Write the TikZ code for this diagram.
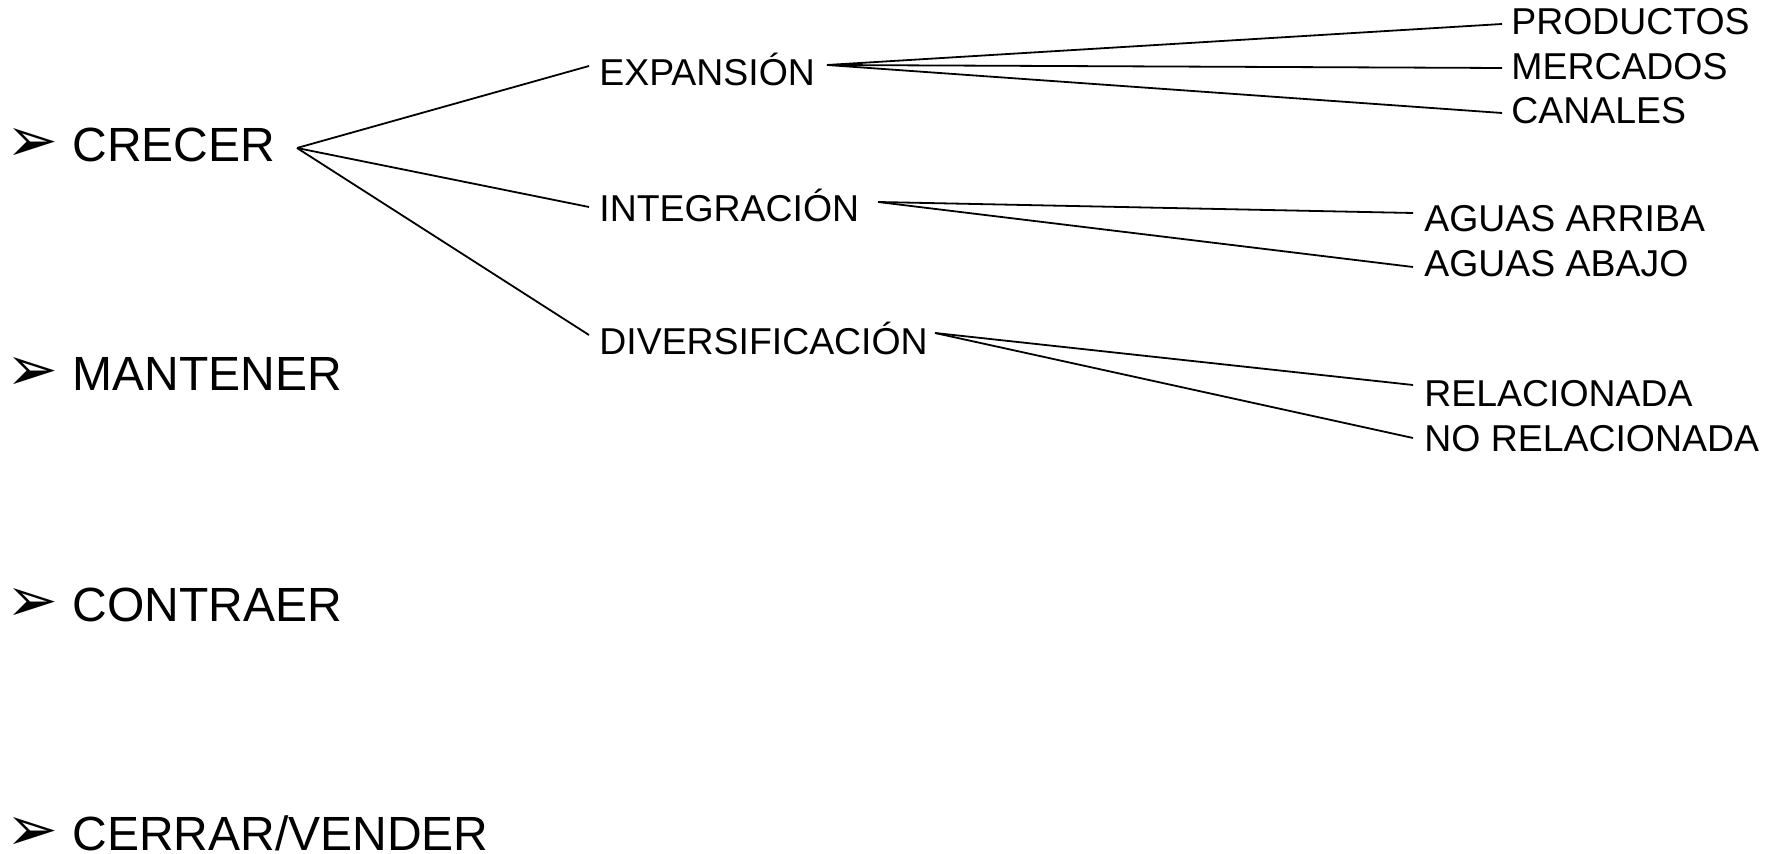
\documentclass[tikz,border=0pt]{standalone}
\usepackage{fontspec}
\setmainfont{Liberation Sans}
\newfontfamily\symfont{DejaVu Sans}
\newcommand{\bulletmark}{\llap{\fontsize{31pt}{31pt}\selectfont\symfont ➢\hspace{7pt}}}
\begin{document}
\begin{tikzpicture}[x=0.5pt,y=-0.5pt,
  topitem/.style={anchor=base west,inner sep=0pt,font=\fontsize{24pt}{28pt}\selectfont},
  subitem/.style={anchor=base west,inner sep=0pt,font=\fontsize{18.7pt}{22pt}\selectfont},
  link/.style={line width=0.9pt,black}]
\useasboundingbox[fill=white] (0,0) rectangle (1777,854);
% top level
\node[topitem] (crecer)   at (72,162) {\bulletmark CRECER};
\node[topitem] (mantener) at (72,391) {\bulletmark MANTENER};
\node[topitem] (contraer) at (72,622) {\bulletmark CONTRAER};
\node[topitem] (cerrar)   at (72,850) {\bulletmark CERRAR/VENDER};
% second level
\node[subitem] (exp) at (599,86)  {EXPANSIÓN};
\node[subitem] (int) at (599,222) {INTEGRACIÓN};
\node[subitem] (div) at (599,355) {DIVERSIFICACIÓN};
% leaves
\node[subitem] (prod)   at (1511,35)  {PRODUCTOS};
\node[subitem] (merc)   at (1511,80)  {MERCADOS};
\node[subitem] (can)    at (1511,124) {CANALES};
\node[subitem] (arriba) at (1424,232) {AGUAS ARRIBA};
\node[subitem] (abajo)  at (1424,277) {AGUAS ABAJO};
\node[subitem] (rel)    at (1424,407) {RELACIONADA};
\node[subitem] (norel)  at (1424,452) {NO RELACIONADA};
% connector end points
\coordinate (crecO) at (297,148);
\coordinate (expL) at (589,66);
\coordinate (intL) at (589,207);
\coordinate (divL) at (589,335);
\coordinate (expO) at (827,65);
\coordinate (intO) at (878,202);
\coordinate (divO) at (935,333);
\coordinate (prodL) at (1502,24);
\coordinate (mercL) at (1502,68);
\coordinate (canL) at (1502,113);
\coordinate (arribaL) at (1413,213);
\coordinate (abajoL) at (1413,267);
\coordinate (relL) at (1413,385);
\coordinate (norelL) at (1413,438);
% connectors
\draw[link] (crecO) -- (expL);
\draw[link] (crecO) -- (intL);
\draw[link] (crecO) -- (divL);
\draw[link] (expO) -- (prodL);
\draw[link] (expO) -- (mercL);
\draw[link] (expO) -- (canL);
\draw[link] (intO) -- (arribaL);
\draw[link] (intO) -- (abajoL);
\draw[link] (divO) -- (relL);
\draw[link] (divO) -- (norelL);
\end{tikzpicture}
\end{document}
